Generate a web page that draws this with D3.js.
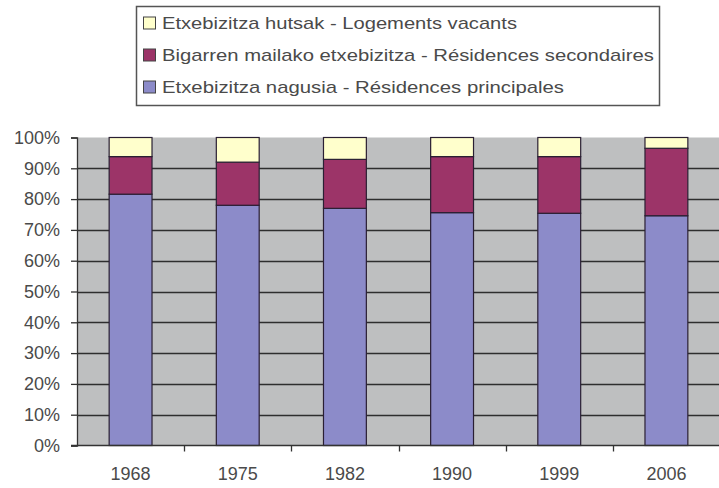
<!DOCTYPE html>
<html>
<head>
<meta charset="utf-8">
<script src="https://cdn.jsdelivr.net/npm/d3@7"></script>
<style>
  body { margin: 0; background: #fff; }
  svg { display: block; font-family: "Liberation Sans", Arial, sans-serif; }
</style>
</head>
<body>
<svg id="chart" width="719" height="488"></svg>
<script>
// Housing stock composition by census year (% of dwellings)
const years = ["1968", "1975", "1982", "1990", "1999", "2006"];
const principales = [81.6, 78.0, 77.0, 75.6, 75.4, 74.6];
const secondaires = [12.2, 14.0, 15.9, 18.2, 18.4, 21.9];
const vacants = [6.2, 8.0, 7.1, 6.2, 6.2, 3.5];
const yTicks = [0, 10, 20, 30, 40, 50, 60, 70, 80, 90, 100];

const seriesNames = [
  "Etxebizitza nagusia - Résidences principales",
  "Bigarren mailako etxebizitza - Résidences secondaires",
  "Etxebizitza hutsak - Logements vacants"
];
const seriesColors = ["#8c8bc9", "#9c3468", "#ffffcc"];

const rows = years.map((y, i) => ({
  year: y, p: principales[i], s: secondaires[i], v: vacants[i]
}));

const svg = d3.select("#chart");
const plot = { left: 77, right: 720, top: 137.5, bottom: 445.5 };
const textColor = "#4a4a4a";

const x = d3.scaleBand().domain(years).range([plot.left, plot.right])
  .paddingInner(0.6).paddingOuter(0.3);
const xBound = d3.scaleBand().domain(years).range([plot.left, plot.right]);
const y = d3.scaleLinear().domain([0, 100]).range([plot.bottom, plot.top]);

// plot area background
svg.append("rect")
  .attr("x", plot.left).attr("y", plot.top)
  .attr("width", plot.right - plot.left).attr("height", plot.bottom - plot.top)
  .attr("fill", "#bebfc0");

// horizontal gridlines
svg.append("g").selectAll("line")
  .data(yTicks.filter(t => t > 0 && t < 100))
  .join("line")
  .attr("x1", plot.left).attr("x2", plot.right)
  .attr("y1", d => Math.round(y(d)) + 0.5).attr("y2", d => Math.round(y(d)) + 0.5)
  .attr("stroke", "#2e2e2e").attr("stroke-width", 1.3);

// stacked bars
const stack = d3.stack().keys(["p", "s", "v"]);
const layers = stack(rows);
svg.append("g").selectAll("g")
  .data(layers)
  .join("g")
  .attr("fill", (d, i) => seriesColors[i])
  .selectAll("rect")
  .data(d => d)
  .join("rect")
  .attr("x", d => x(d.data.year))
  .attr("width", x.bandwidth())
  .attr("y", d => y(d[1]))
  .attr("height", d => y(d[0]) - y(d[1]))
  .attr("stroke", "#2a1f33")
  .attr("stroke-width", 1.2);

// y axis
const yAxis = d3.axisLeft(y).tickValues(yTicks).tickFormat(d => d + "%")
  .tickSizeOuter(0).tickSize(6).tickPadding(11);
const gy = svg.append("g").attr("transform", `translate(${plot.left},0)`).call(yAxis);
gy.select(".domain").attr("stroke", "#333").attr("stroke-width", 1.3);
gy.selectAll(".tick line").attr("stroke", "#333").attr("stroke-width", 1.3);
gy.selectAll("text").attr("font-size", 18).attr("fill", textColor)
  .attr("font-family", "'Liberation Sans', Arial, sans-serif");

// x axis
const gx = svg.append("g").attr("transform", `translate(0,${plot.bottom})`);
gx.append("line").attr("x1", plot.left - 6).attr("x2", plot.right)
  .attr("stroke", "#333").attr("stroke-width", 1.3);
gx.selectAll("line.sep")
  .data(years.slice(1))
  .join("line").attr("class", "sep")
  .attr("x1", d => Math.round(xBound(d)) + 0.5).attr("x2", d => Math.round(xBound(d)) + 0.5)
  .attr("y1", 0).attr("y2", 6)
  .attr("stroke", "#333").attr("stroke-width", 1.3);
gx.selectAll("text")
  .data(years)
  .join("text")
  .attr("x", d => x(d) + x.bandwidth() / 2)
  .attr("y", 34)
  .attr("text-anchor", "middle")
  .attr("font-size", 18).attr("fill", textColor)
  .text(d => d);

// legend
const legend = svg.append("g");
legend.append("rect")
  .attr("x", 136.5).attr("y", 6.5).attr("width", 523).attr("height", 99)
  .attr("fill", "#fff").attr("stroke", "#555").attr("stroke-width", 1.5);
const legendOrder = [2, 1, 0];
const legendWidths = [355, 492, 402];
legendOrder.forEach((si, r) => {
  const cy = 23 + r * 32;
  legend.append("rect")
    .attr("x", 143.5).attr("y", cy - 6).attr("width", 12).attr("height", 12)
    .attr("fill", seriesColors[si]).attr("stroke", "#444").attr("stroke-width", 1);
  legend.append("text")
    .attr("x", 162).attr("y", cy + 6)
    .attr("font-size", 17).attr("fill", textColor)
    .attr("textLength", legendWidths[r]).attr("lengthAdjust", "spacingAndGlyphs")
    .text(seriesNames[si]);
});
</script>
</body>
</html>
